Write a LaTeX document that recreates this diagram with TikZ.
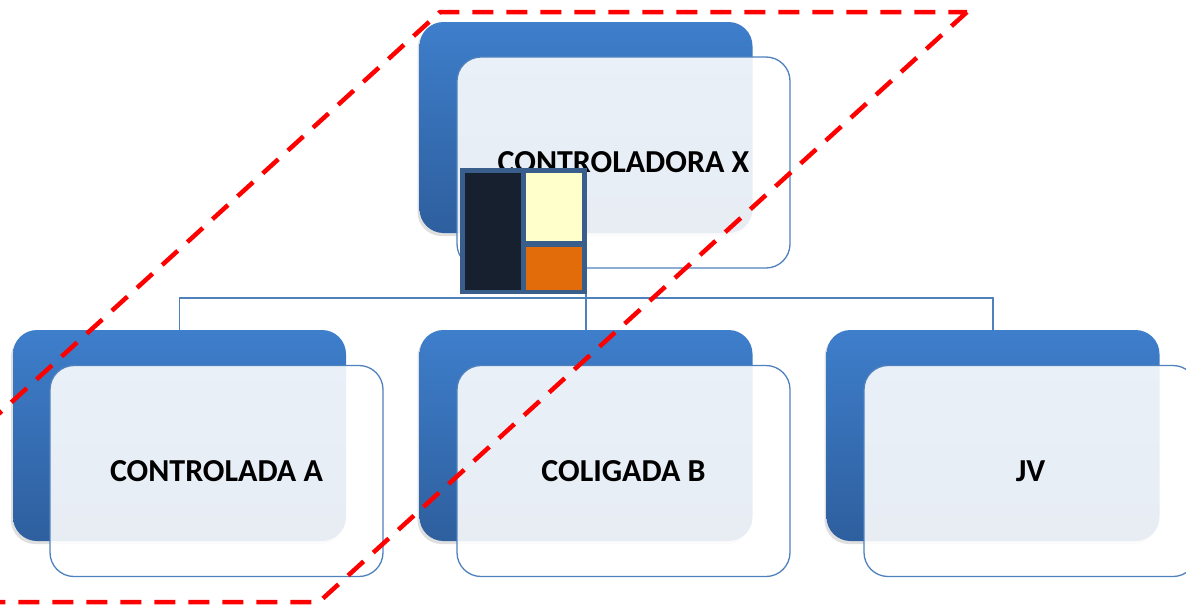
\documentclass[tikz,border=0pt]{standalone}
\usepackage{fontspec}
\setmainfont{Carlito}
\usetikzlibrary{shadows}
\definecolor{bluetop}{HTML}{3E7ECB}
\definecolor{bluebot}{HTML}{2E5F9E}
\definecolor{edgeblue}{HTML}{4F81BD}
\definecolor{iconedge}{HTML}{3A5E8C}
\definecolor{icondark}{HTML}{17202F}
\definecolor{iconlight}{HTML}{FFFFCC}
\definecolor{iconorange}{HTML}{E36C0A}
\tikzset{
  backbox/.style={rectangle, rounded corners=24pt, minimum width=333pt, minimum height=211pt,
    inner sep=0pt, top color=bluetop, bottom color=bluebot, draw=none,
    drop shadow={opacity=0.25, shadow xshift=-2pt, shadow yshift=-3pt}},
  frontbox/.style={rectangle, rounded corners=24pt, minimum width=333pt, minimum height=211pt,
    inner sep=0pt, draw=edgeblue, line width=1.3pt, fill=white, fill opacity=0.89, text opacity=1,
    font=\bfseries\fontsize{32}{38}\selectfont},
  link/.style={draw=edgeblue, line width=1.3pt},
  redframe/.style={draw=red, line width=4.5pt, dash pattern=on 21pt off 13pt, line join=round},
  iconpart/.style={rectangle, inner sep=0pt, draw=none}
}
\begin{document}
\begin{tikzpicture}[x=1pt,y=-1pt]
\useasboundingbox (0,0) rectangle (1186,605);
\clip (0,0) rectangle (1186,605);
% back boxes
\node[backbox] (topback) at (586,127.5) {};
\node[backbox] (aback) at (179.5,435.5) {};
\node[backbox] (bback) at (586,435.5) {};
\node[backbox] (jvback) at (993,435.5) {};
% connectors
\coordinate (bus) at (586,298);
\draw[link] (topback.south) -- (bback.north);
\draw[link] (aback.north) |- (bus) -| (jvback.north);
% front boxes
\node[frontbox] (top) at (623.5,162.5) {CONTROLADORA X};
\node[frontbox] (a) at (216.5,471) {CONTROLADA A};
\node[frontbox] (b) at (623.5,471) {COLIGADA B};
\node[frontbox] (jv) at (1030.5,471) {JV};
% icon
\node[iconpart, fill=iconedge, minimum width=127pt, minimum height=126pt] (icon) at (523.5,231) {};
\node[iconpart, fill=icondark, minimum width=56pt, minimum height=117pt] (iconl) at (493,231.5) {};
\node[iconpart, fill=iconlight, minimum width=56pt, minimum height=68pt] (iconr1) at (554,207) {};
\node[iconpart, fill=iconorange, minimum width=56pt, minimum height=43pt] (iconr2) at (554,268.5) {};
% red dashed frame
\draw[redframe] (967,12) -- (319,602) -- (-208,602) -- (440,12) -- cycle;
\end{tikzpicture}
\end{document}
